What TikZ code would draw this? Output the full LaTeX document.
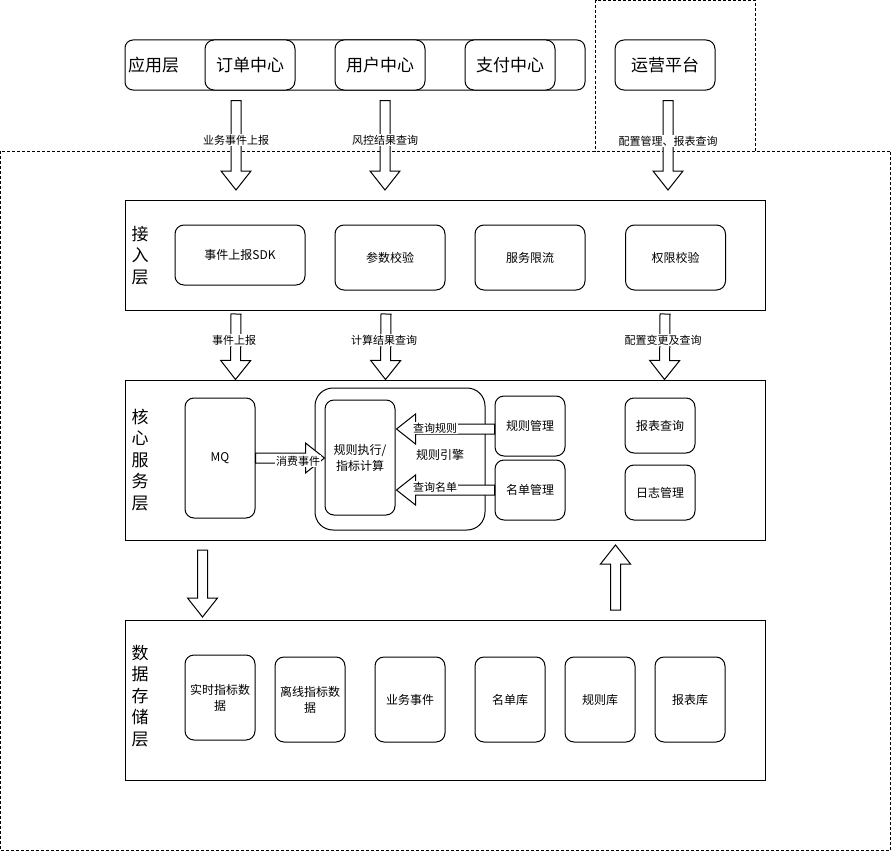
\documentclass[tikz,border=0pt]{standalone}
\usepackage{fontspec}
\setmainfont{Noto Sans CJK SC}
\usetikzlibrary{calc}
\tikzset{
  base/.style={draw, line width=1pt, fill=white, align=center, inner sep=0pt},
  layer/.style={base, rounded corners=0pt},
  box/.style={base, rounded corners=9pt, font=\fontsize{12}{16}\selectfont},
  bigbox/.style={base, rounded corners=9pt, font=\fontsize{17}{20}\selectfont},
  dashframe/.style={draw, line width=1pt, dash pattern=on 3pt off 2pt},
  blk/.style={draw, line width=1pt, fill=white, line join=miter},
  lbl/.style={fill=white, inner sep=1pt, font=\fontsize{11}{13}\selectfont},
  vtitle/.style={align=center, inner sep=0pt, font=\fontsize{17}{21.5}\selectfont},
}
% block arrow from #1 to #2
\newcommand{\blockarrow}[2]{%
  \path ($(#2)!19pt!(#1)$) coordinate (ba-base);
  \draw[blk] ($(#1)!5pt!90:(#2)$) -- ($(ba-base)!5pt!90:(#2)$)
     -- ($(ba-base)!15pt!90:(#2)$) -- (#2) -- ($(ba-base)!15pt!-90:(#2)$)
     -- ($(ba-base)!5pt!-90:(#2)$) -- ($(#1)!5pt!-90:(#2)$) -- cycle;
}
\begin{document}
\begin{tikzpicture}[x=1pt,y=-1pt]
\useasboundingbox (0,0) rectangle (891,851);
\fill[white] (0,0) rectangle (891,851);

% dashed frames
\draw[dashframe] (595.5,0.5) -- (595.5,151) (755.5,151) -- (755.5,0.5) -- (595.5,0.5);
\draw[dashframe] (0.5,151) rectangle (890.5,850.5);

% application layer
\node[layer, rounded corners=8pt, minimum width=460pt, minimum height=50pt] (app) at (355,65) {};
\node[anchor=west, font=\fontsize{17}{20}\selectfont, inner sep=0pt] (applbl) at (128,65) {应用层};
\node[bigbox, minimum width=90pt, minimum height=50pt] (order) at (250,65) {订单中心};
\node[bigbox, minimum width=90pt, minimum height=50pt] (user) at (380,65) {用户中心};
\node[bigbox, minimum width=90pt, minimum height=50pt] (pay) at (510,65) {支付中心};
\node[bigbox, minimum width=100pt, minimum height=50pt] (ops) at (665,65) {运营平台};

% access layer
\node[layer, minimum width=640pt, minimum height=110pt] (access) at (445,255) {};
\node[vtitle] (accesslbl) at (140,255.5) {接\\入\\层};
\node[box, minimum width=130pt, minimum height=60pt] (sdk) at (240,255) {事件上报SDK};
\node[box, minimum width=110pt, minimum height=65pt] (param) at (390,257.5) {参数校验};
\node[box, minimum width=110pt, minimum height=65pt] (limit) at (530,257.5) {服务限流};
\node[box, minimum width=100pt, minimum height=65pt] (perm) at (675.5,257.5) {权限校验};

% core layer
\node[layer, minimum width=640pt, minimum height=160pt] (core) at (445,460) {};
\node[vtitle] (corelbl) at (140,460) {核\\心\\服\\务\\层};
\node[box, minimum width=70pt, minimum height=120pt] (mq) at (220,458) {MQ};
\node[box, rounded corners=18pt, minimum width=170pt, minimum height=142pt] (engine) at (400,459) {};
\node[font=\fontsize{12}{14}\selectfont, inner sep=0pt] (enginelbl) at (440,455) {规则引擎};
\node[box, minimum width=70pt, minimum height=115pt] (exec) at (360,457.5) {规则执行/\\指标计算};
\node[box, minimum width=70pt, minimum height=60pt] (rulemgr) at (530,426) {规则管理};
\node[box, minimum width=70pt, minimum height=60pt] (listmgr) at (530,490) {名单管理};
\node[box, minimum width=70pt, minimum height=55pt] (report) at (660,425.5) {报表查询};
\node[box, minimum width=70pt, minimum height=55pt] (logmgr) at (660,492.5) {日志管理};

% data layer
\node[layer, minimum width=640pt, minimum height=160pt] (data) at (445,700) {};
\node[vtitle] (datalbl) at (140,696) {数\\据\\存\\储\\层};
\node[box, minimum width=70pt, minimum height=85pt] (rt) at (220,697.5) {实时指标数\\据};
\node[box, minimum width=70pt, minimum height=85pt] (off) at (310,699.5) {离线指标数\\据};
\node[box, minimum width=70pt, minimum height=85pt] (biz) at (410,699.5) {业务事件};
\node[box, minimum width=70pt, minimum height=85pt] (listdb) at (510,699.5) {名单库};
\node[box, minimum width=70pt, minimum height=85pt] (ruledb) at (600,699.5) {规则库};
\node[box, minimum width=70pt, minimum height=85pt] (repdb) at (690,699.5) {报表库};

% arrow end points
\coordinate (a1s) at ($(order.south)+(-14,10)$);  \coordinate (a1e) at (236,190);
\coordinate (a2s) at ($(user.south)+(5,10)$);     \coordinate (a2e) at (385,190);
\coordinate (a3s) at ($(ops.south)+(3,10)$);      \coordinate (a3e) at (668,190);
\coordinate (b1s) at (236,314); \coordinate (b1e) at ($(core.north west)+(111,0)$);
\coordinate (b2s) at (386,314); \coordinate (b2e) at ($(core.north west)+(261,0)$);
\coordinate (b3s) at (665,314); \coordinate (b3e) at ($(core.north west)+(540,0)$);
\coordinate (c1s) at (202.5,550); \coordinate (c1e) at (202.5,617);
\coordinate (c2s) at (615.5,610); \coordinate (c2e) at (615.5,545);
\coordinate (mqs) at (mq.east |- 0,458); \coordinate (mqe) at (exec.west |- 0,458);
\coordinate (r1s) at (rulemgr.west |- 0,429); \coordinate (r1e) at ($(exec.east |- 0,429)+(1,0)$);
\coordinate (r2s) at (listmgr.west |- 0,490); \coordinate (r2e) at ($(exec.east |- 0,490)+(1,0)$);

\blockarrow{a1s}{a1e}
\blockarrow{a2s}{a2e}
\blockarrow{a3s}{a3e}
\blockarrow{b1s}{b1e}
\blockarrow{b2s}{b2e}
\blockarrow{b3s}{b3e}
\blockarrow{c1s}{c1e}
\blockarrow{c2s}{c2e}
\blockarrow{mqs}{mqe}
\blockarrow{r1s}{r1e}
\blockarrow{r2s}{r2e}

% arrow labels
\node[lbl] (la1) at (236,140) {业务事件上报};
\node[lbl] (la2) at (385,140) {风控结果查询};
\node[lbl] (la3) at (668,141) {配置管理、报表查询};
\node[lbl] (lb1) at (234,340) {事件上报};
\node[lbl] (lb2) at (384,340) {计算结果查询};
\node[lbl] (lb3) at (663,340) {配置变更及查询};
\node[lbl] (lmq) at (298,461) {消费事件};
\node[lbl] (lr1) at (435,428) {查询规则};
\node[lbl] (lr2) at (435,487) {查询名单};
\end{tikzpicture}
\end{document}
